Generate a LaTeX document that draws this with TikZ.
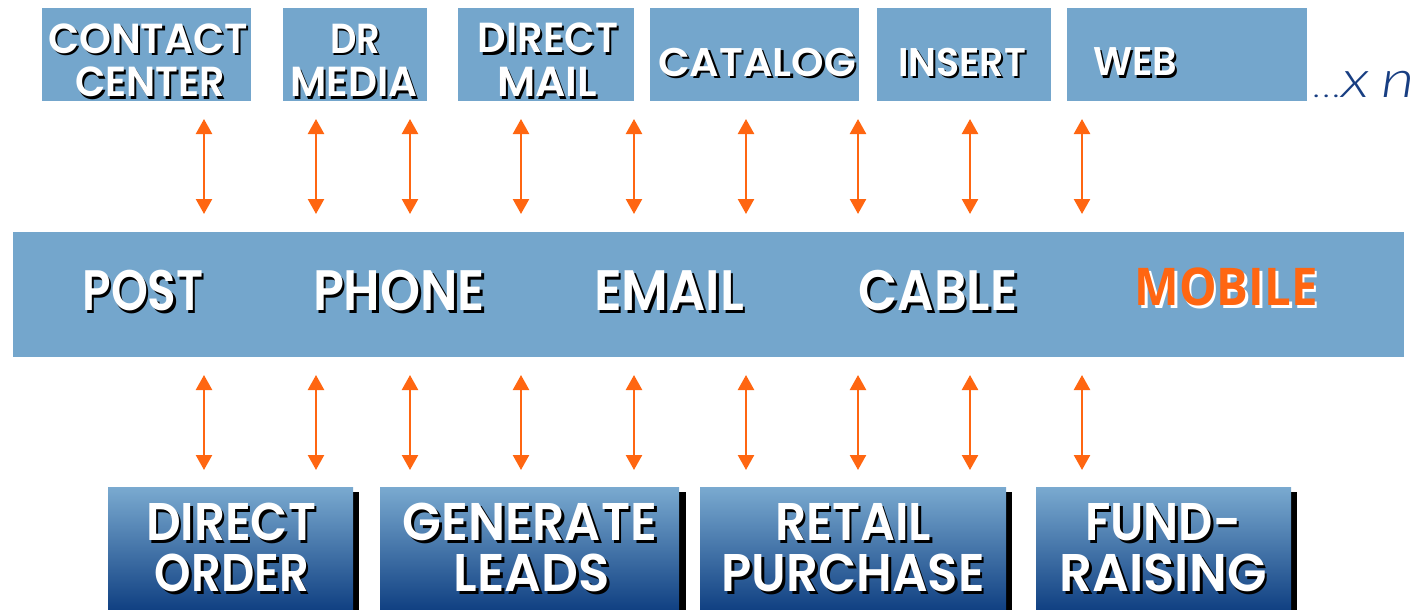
\documentclass[tikz,border=0pt]{standalone}
\usepackage{fontspec}
\usepackage{graphicx}
\usetikzlibrary{arrows.meta}
\setmainfont{Poppins SemiBold}
\newfontfamily\mobfont{Open Sans}
\newfontfamily\xnfont{Lato Light Italic}
\definecolor{boxblue}{RGB}{116,166,204}
\definecolor{gradtop}{RGB}{122,170,208}
\definecolor{gradbot}{RGB}{16,64,130}
\definecolor{arrorange}{RGB}{255,102,17}
\definecolor{xnblue}{RGB}{24,62,130}
\tikzset{
  topbox/.style={fill=boxblue, draw=none},
  goalbox/.style={top color=gradtop, bottom color=gradbot, draw=none},
  goalshadow/.style={fill=black, draw=none},
  link/.style={arrorange, line width=2.4pt, {Triangle[width=16pt,length=15pt]}-{Triangle[width=16pt,length=15pt]}},
  lab/.style={anchor=base, inner sep=0pt},
}
% text with drop shadow: #1 shadow colour, #2 offset, #3 text colour, #4 text
\newcommand\shtext[4]{\rlap{\textcolor{#1}{\raisebox{-#2pt}{\hspace{#2pt}#4}}}\textcolor{#3}{#4}}
% #1 name, #2 baseline point, #3 font size, #4 width, #5 text, #6 shadow offset
\newcommand\shl[6]{%
  \node[lab, font=\fontsize{#3pt}{#3pt}\selectfont] (#1) at (#2) {\resizebox{#4pt}{\height}{\shtext{black}{#6}{white}{#5}}};}
\begin{document}
\begin{tikzpicture}[x=1pt, y=-1pt]
\useasboundingbox (0,0) rectangle (1422,610);
% top boxes
\fill[topbox] (42,8) rectangle (251,101);
\fill[topbox] (283,8) rectangle (427,101);
\fill[topbox] (458,8) rectangle (634,101);
\fill[topbox] (650,8) rectangle (859,101);
\fill[topbox] (877,8) rectangle (1051,101);
\fill[topbox] (1067,8) rectangle (1307,101);
% middle band
\fill[topbox] (13,232) rectangle (1404,357);
% bottom boxes with shadows
\fill[goalshadow] (114,492) rectangle (359,610);
\fill[goalshadow] (386,492) rectangle (686,610);
\fill[goalshadow] (706,492) rectangle (1012,610);
\fill[goalshadow] (1042,492) rectangle (1297,610);
\shade[goalbox] (108,487) rectangle (353,610);
\shade[goalbox] (380,487) rectangle (679,610);
\shade[goalbox] (700,487) rectangle (1006,610);
\shade[goalbox] (1036,487) rectangle (1291,610);

% arrow anchors
\foreach \i/\x in {1/204,2/316,3/410,4/521,5/634,6/746,7/858,8/970,9/1082}{
  \coordinate (ut\i) at (\x,119);
  \coordinate (ub\i) at (\x,214);
  \coordinate (lt\i) at (\x,375);
  \coordinate (lb\i) at (\x,470);
}
\foreach \i in {1,...,9}{
  \draw[link] (ut\i) -- (ub\i);
  \draw[link] (lt\i) -- (lb\i);
}

% top labels
\shl{t1a}{148,53}{42}{200}{CONTACT}{2.2}
\shl{t1b}{150,97}{42}{150}{CENTER}{2.2}
\shl{t2a}{355,53}{42}{50}{DR}{2.2}
\shl{t2b}{354,97}{42}{127}{MEDIA}{2.2}
\shl{t3a}{548,53}{42}{140}{DIRECT}{2.2}
\shl{t3b}{547,97}{42}{100}{MAIL}{2.2}
\shl{t4}{757,76}{40}{198}{CATALOG}{2.2}
\shl{t5}{962,76}{40}{128}{INSERT}{2.2}
\shl{t6}{1135,76}{40}{84}{WEB}{2.2}

% middle labels
\shl{m1}{143,310}{57}{121}{POST}{3}
\shl{m2}{399,310}{57}{172}{PHONE}{3}
\shl{m3}{669,310}{57}{150}{EMAIL}{3}
\shl{m4}{938,310}{57}{159}{CABLE}{3}
\node[lab, font=\mobfont\bfseries\fontsize{52pt}{52pt}\selectfont] (m5) at (1226,305)
  {\resizebox{183pt}{\height}{\shtext{white}{3}{arrorange}{MOBILE}}};

% bottom labels
\shl{g1a}{231,540}{53}{170}{DIRECT}{3}
\shl{g1b}{232,591}{53}{154}{ORDER}{3}
\shl{g2a}{530,540}{53}{254}{GENERATE}{3}
\shl{g2b}{532,591}{53}{156}{LEADS}{3}
\shl{g3a}{853,540}{53}{156}{RETAIL}{3}
\shl{g3b}{853,591}{53}{263}{PURCHASE}{3}
\shl{g4a}{1163,540}{53}{156}{FUND-}{3}
\shl{g4b}{1163,591}{53}{207}{RAISING}{3}

% ...x n
\node[lab, anchor=base west, text=xnblue, font=\xnfont] (xn) at (1313,97)
  {\resizebox{102pt}{\height}{\fontsize{30pt}{30pt}\selectfont.\hspace{1pt}.\hspace{1pt}.\fontsize{52pt}{52pt}\selectfont x\hspace{10pt}n}};
\end{tikzpicture}
\end{document}
